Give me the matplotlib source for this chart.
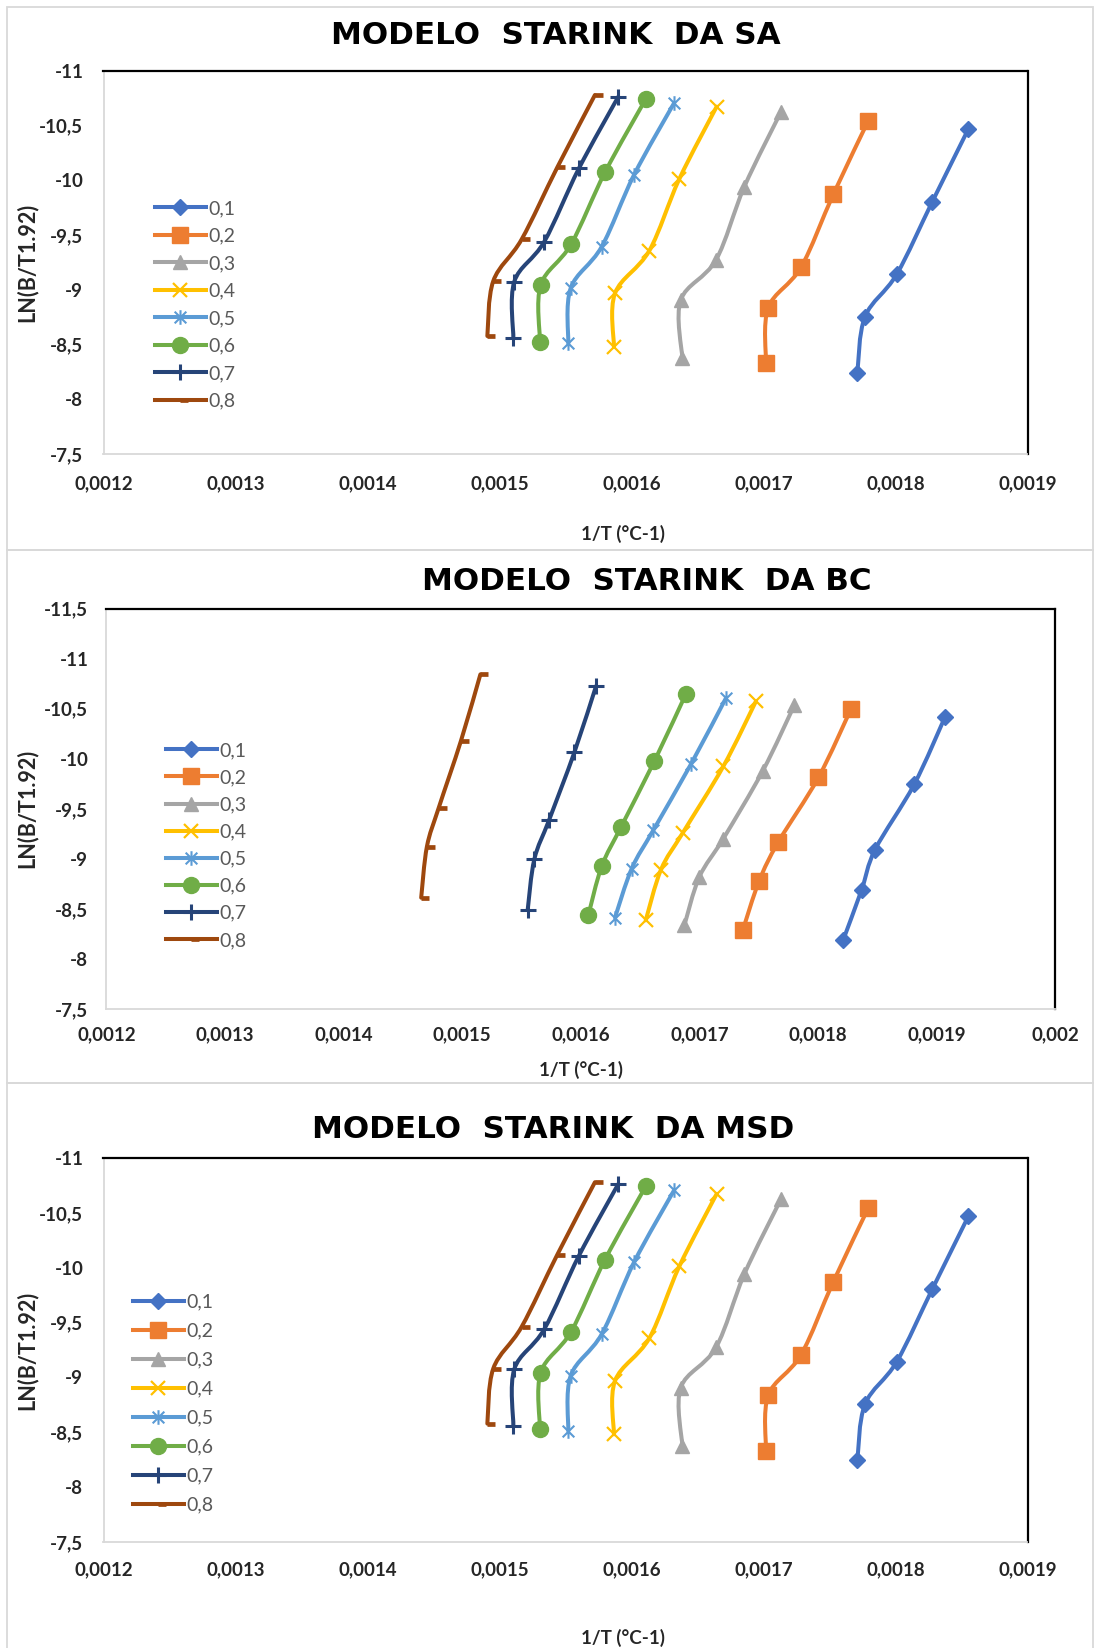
import numpy as np
import matplotlib
matplotlib.use("Agg")
import matplotlib.pyplot as plt
from matplotlib.path import Path
from matplotlib.patches import PathPatch, Rectangle
from matplotlib.lines import Line2D
from matplotlib.ticker import FuncFormatter, MultipleLocator

plt.rcParams["font.family"] = ["Lato", "DejaVu Sans"]

# conversion levels (legend labels)
conversions = ["0,1", "0,2", "0,3", "0,4", "0,5", "0,6", "0,7", "0,8"]

# ---- SA: 1/T and ln(B/T^1.92) per conversion level ----
sa_inv_t = [
    [0.0017711, 0.0017769, 0.0018009, 0.0018279, 0.0018552],
    [0.0017019, 0.0017036, 0.0017284, 0.0017529, 0.0017794],
    [0.0016385, 0.0016373, 0.0016640, 0.0016855, 0.0017133],
    [0.0015867, 0.0015875, 0.0016135, 0.0016362, 0.0016645],
    [0.0015521, 0.0015539, 0.0015774, 0.0016019, 0.0016324],
    [0.0015307, 0.0015312, 0.0015542, 0.0015799, 0.0016108],
    [0.0015105, 0.0015112, 0.0015339, 0.0015602, 0.0015900],
    [0.0014908, 0.0014953, 0.0015168, 0.0015438, 0.0015723],
]
sa_ln = [
    [-8.243, -8.755, -9.142, -9.806, -10.470],
    [-8.329, -8.837, -9.206, -9.873, -10.546],
    [-8.375, -8.907, -9.273, -9.943, -10.628],
    [-8.481, -8.969, -9.358, -10.013, -10.674],
    [-8.512, -9.014, -9.394, -10.050, -10.710],
    [-8.526, -9.044, -9.416, -10.074, -10.744],
    [-8.557, -9.075, -9.440, -10.111, -10.765],
    [-8.578, -9.081, -9.462, -10.120, -10.781],
]

# ---- BC ----
bc_inv_t = [
    [0.0018213, 0.0018368, 0.0018481, 0.0018810, 0.0019071],
    [0.0017365, 0.0017503, 0.0017665, 0.0018003, 0.0018276],
    [0.0016873, 0.0016999, 0.0017202, 0.0017534, 0.0017800],
    [0.0016547, 0.0016676, 0.0016859, 0.0017202, 0.0017477],
    [0.0016288, 0.0016429, 0.0016611, 0.0016927, 0.0017222],
    [0.0016063, 0.0016176, 0.0016339, 0.0016620, 0.0016885],
    [0.0015552, 0.0015608, 0.0015734, 0.0015945, 0.0016128],
    [0.0014654, 0.0014702, 0.0014801, 0.0014990, 0.0015153],
]
bc_ln = [
    [-8.193, -8.693, -9.093, -9.743, -10.419],
    [-8.286, -8.779, -9.169, -9.813, -10.493],
    [-8.336, -8.819, -9.203, -9.879, -10.536],
    [-8.386, -8.893, -9.259, -9.926, -10.576],
    [-8.413, -8.903, -9.286, -9.943, -10.603],
    [-8.436, -8.926, -9.319, -9.976, -10.646],
    [-8.493, -8.997, -9.393, -10.063, -10.726],
    [-8.612, -9.121, -9.507, -10.182, -10.843],
]

# ---- MSD ----
msd_inv_t = [
    [0.0017711, 0.0017769, 0.0018009, 0.0018279, 0.0018552],
    [0.0017019, 0.0017036, 0.0017284, 0.0017529, 0.0017794],
    [0.0016385, 0.0016373, 0.0016640, 0.0016855, 0.0017133],
    [0.0015867, 0.0015875, 0.0016135, 0.0016362, 0.0016645],
    [0.0015521, 0.0015539, 0.0015774, 0.0016019, 0.0016324],
    [0.0015307, 0.0015312, 0.0015542, 0.0015799, 0.0016108],
    [0.0015105, 0.0015112, 0.0015339, 0.0015602, 0.0015900],
    [0.0014908, 0.0014953, 0.0015168, 0.0015438, 0.0015723],
]
msd_ln = [
    [-8.243, -8.755, -9.142, -9.806, -10.470],
    [-8.329, -8.837, -9.206, -9.873, -10.546],
    [-8.375, -8.907, -9.273, -9.943, -10.628],
    [-8.481, -8.969, -9.358, -10.013, -10.674],
    [-8.512, -9.014, -9.394, -10.050, -10.710],
    [-8.526, -9.044, -9.416, -10.074, -10.744],
    [-8.557, -9.075, -9.440, -10.111, -10.765],
    [-8.578, -9.081, -9.462, -10.120, -10.781],
]

colors = ["#4472C4", "#ED7D31", "#A5A5A5", "#FFC000",
          "#5B9BD5", "#70AD47", "#264478", "#9E480E"]

asterisk = Path([(-1, -1), (1, 1), (-1, 1), (1, -1), (0, -1.25), (0, 1.25)],
                [Path.MOVETO, Path.LINETO, Path.MOVETO, Path.LINETO,
                 Path.MOVETO, Path.LINETO])
dash = Path([(0, 0), (1, 0)], [Path.MOVETO, Path.LINETO])

marker_styles = [
    dict(marker="D", markersize=8),
    dict(marker="s", markersize=11),
    dict(marker="^", markersize=10.5),
    dict(marker="x", markersize=10, markeredgewidth=1.6),
    dict(marker=asterisk, markersize=10.5, markeredgewidth=1.5),
    dict(marker="o", markersize=11.5),
    dict(marker="+", markersize=11.5, markeredgewidth=2.2),
    dict(marker=dash, markersize=12, markeredgewidth=3.4),
]
LW = 2.9

W, H = 1097, 1648


def smooth_path(xs, ys):
    """Bezier curve through the points (Catmull-Rom style tangents)."""
    pts = np.column_stack([xs, ys]).astype(float)
    n = len(pts)
    verts = [pts[0]]
    codes = [Path.MOVETO]
    for i in range(n - 1):
        p0 = pts[i - 1] if i > 0 else pts[i]
        p1, p2 = pts[i], pts[i + 1]
        p3 = pts[i + 2] if i + 2 < n else pts[i + 1]
        verts += [p1 + (p2 - p0) / 6.0, p2 - (p3 - p1) / 6.0, p2]
        codes += [Path.CURVE4] * 3
    return Path(verts, codes)


def fmt_x(v, _):
    return ("%.4f" % v).rstrip("0").replace(".", ",")


def fmt_y(v, _):
    return ("%g" % round(v, 2)).replace(".", ",")


def px_box(x0, y0, x1, y1):
    return [x0 / W, 1 - y1 / H, (x1 - x0) / W, (y1 - y0) / H]


fig = plt.figure(figsize=(W / 100, H / 100), dpi=100)

# chart-area frames
for y0, y1 in [(7, 550), (550, 1083), (1083, 1700)]:
    fig.add_artist(Rectangle((7 / W, 1 - y1 / H), (1093 - 7) / W, (y1 - y0) / H,
                             transform=fig.transFigure, fill=False,
                             edgecolor="#d9d9d9", linewidth=1.3))

panels = [
    dict(title="MODELO  STARINK  DA SA", xs=sa_inv_t, ys=sa_ln,
         box=(103.5, 71, 1027.5, 454), xlim=(0.0012, 0.0019), ylim=(-7.5, -11),
         title_pos=(556, 36), xlabel_pos=(623, 534), xpad=15.5, ypad=14.5,
         leg=(155, 305, 0.54)),
    dict(title="MODELO  STARINK  DA BC", xs=bc_inv_t, ys=bc_ln,
         box=(106.4, 608.6, 1055.3, 1009), xlim=(0.0012, 0.0020), ylim=(-7.5, -11.5),
         title_pos=(647, 582), xlabel_pos=(581, 1070), xpad=12.5, ypad=13,
         leg=(166, 845.5, 0.52)),
    dict(title="MODELO  STARINK  DA MSD", xs=msd_inv_t, ys=msd_ln,
         box=(103.5, 1158.2, 1027.5, 1541.8), xlim=(0.0012, 0.0019), ylim=(-7.5, -11),
         title_pos=(553.5, 1130), xlabel_pos=(623, 1638), xpad=14, ypad=14.5,
         leg=(133, 1403.6, 0.62)),
]

for p in panels:
    x0, y0, x1, y1 = p["box"]
    ax = fig.add_axes(px_box(x0, y0, x1, y1))
    ax.set_xlim(*p["xlim"])
    ax.set_ylim(*p["ylim"])
    ax.xaxis.set_major_locator(MultipleLocator(0.0001))
    ax.yaxis.set_major_locator(MultipleLocator(0.5))
    ax.xaxis.set_major_formatter(FuncFormatter(fmt_x))
    ax.yaxis.set_major_formatter(FuncFormatter(fmt_y))
    ax.tick_params(axis="x", length=0, pad=p["xpad"], labelsize=13.5,
                   labelcolor="#262626")
    ax.tick_params(axis="y", length=0, pad=p["ypad"], labelsize=13.5,
                   labelcolor="#262626")
    for lab in ax.get_xticklabels() + ax.get_yticklabels():
        lab.set_fontweight("bold")
    for side in ("top", "right"):
        ax.spines[side].set_color("black")
        ax.spines[side].set_linewidth(1.6)
    for side in ("left", "bottom"):
        ax.spines[side].set_color("#d9d9d9")
        ax.spines[side].set_linewidth(1.3)

    handles = []
    for xs, ys, c, ms in zip(p["xs"], p["ys"], colors, marker_styles):
        ax.add_patch(PathPatch(smooth_path(xs, ys), facecolor="none", edgecolor=c,
                               linewidth=LW, capstyle="round", joinstyle="round",
                               zorder=2))
        ax.plot(xs, ys, linestyle="none", color=c, markerfacecolor=c,
                markeredgecolor=c, zorder=3, **ms)
        handles.append(Line2D([], [], color=c, linewidth=LW, markerfacecolor=c,
                              markeredgecolor=c, **ms))

    lx, ly, lsp = p["leg"]
    ax.legend(handles, conversions, loc="center left",
              bbox_to_anchor=(lx / W, 1 - ly / H), bbox_transform=fig.transFigure,
              frameon=False, fontsize=14, labelcolor="#595959",
              handlelength=2.6, handletextpad=0.15, labelspacing=lsp,
              borderpad=0, borderaxespad=0)

    ax.set_xlabel("1/T (°C-1)", fontsize=13.5, fontweight="bold", color="#262626")
    ax.xaxis.label.set_va("center")
    ax.xaxis.set_label_coords((p["xlabel_pos"][0] - x0) / (x1 - x0),
                              (y1 - p["xlabel_pos"][1]) / (y1 - y0))
    ax.set_ylabel("LN(B/T1.92)", fontsize=15.5, fontweight="bold", color="#262626")
    ax.yaxis.label.set_va("center")
    ax.yaxis.set_label_coords((27 - x0) / (x1 - x0), 0.5)

    fig.text(p["title_pos"][0] / W, 1 - p["title_pos"][1] / H, p["title"],
             ha="center", va="center", fontsize=22.3, fontweight="bold",
             family=["DejaVu Sans"], color="black")

fig.savefig("out.png", dpi=100)
